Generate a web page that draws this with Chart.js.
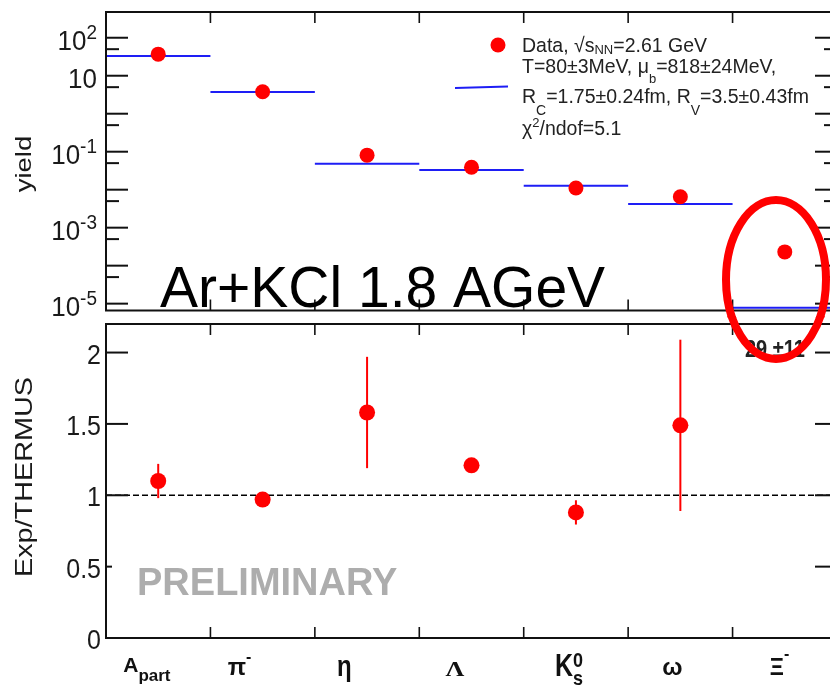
<!DOCTYPE html>
<html>
<head>
<meta charset="utf-8">
<script src="https://cdn.jsdelivr.net/npm/chart.js@4.4.1/dist/chart.umd.min.js"></script>
<style>
  html, body { margin: 0; padding: 0; background: #fff; overflow: hidden; }
  #wrap { position: relative; width: 830px; height: 690px; overflow: hidden; background: #fff; }
  #c1 { position: absolute; left: 0; top: 0; }
  #c2 { position: absolute; left: 0; top: 316px; }
</style>
</head>
<body>
<div id="wrap">
  <canvas id="c1" width="850" height="318"></canvas>
  <canvas id="c2" width="850" height="374"></canvas>
</div>
<script>
// ---------------- data ----------------
const categories = ['A_part', 'π⁻', 'η', 'Λ', 'K⁰s', 'ω', 'Ξ⁻'];
const yieldData  = [37, 3.8, 0.081, 0.039, 0.0111, 0.0065, 0.00023];
const yieldModel = [33, 3.75, 0.048, 0.033, 0.0126, 0.0042, 0.0000078];
const ratioData  = [1.10, 0.97, 1.58, 1.21, 0.88, 1.49, null];
const ratioErr   = [0.12, 0.02, 0.39, 0.02, 0.085, 0.60, null];
const xiRatioText = '29 ±11';

const yieldTickValues = [100, 10, 0.1, 0.001, 0.00001];
const yieldTickMain   = ['10', '10', '10', '10', '10'];
const yieldTickSup    = ['2', '', '-1', '-3', '-5'];
const ratioTickValues = [0, 0.5, 1, 1.5, 2];
const ratioTickLabels = ['0', '0.5', '1', '1.5', '2'];

const legendLines = [
  [['Data, √s', ''], ['NN', 'sub0'], ['=2.61 GeV', '']],
  [['T=80±3MeV, μ', ''], ['b', 'sub1'], ['=818±24MeV,', '']],
  [['R', ''], ['C', 'sub2'], ['=1.75±0.24fm, R', ''], ['V', 'sub2'], ['=3.5±0.43fm', '']],
  [['χ', ''], ['2', 'sup'], ['/ndof=5.1', '']]
];

// ---------------- style ----------------
const RED = '#ff0000', BLUE = '#1e1ef5', INK = '#111111';
const FONT = '"Liberation Sans", Arial, Helvetica, sans-serif';
const SERIF = '"Liberation Serif", "DejaVu Serif", serif';
const OFF2 = 316; // top of second canvas in page coords

function txt(ctx, s, x, y, font, o = {}) {
  ctx.save();
  ctx.font = font;
  ctx.fillStyle = o.color || INK;
  ctx.textAlign = o.align || 'left';
  ctx.textBaseline = 'alphabetic';
  ctx.translate(x, y);
  if (o.rot) ctx.rotate(o.rot);
  ctx.scale(o.sx || 1, o.sy || 1);
  ctx.fillText(s, 0, 0);
  ctx.restore();
}
function richW(ctx, parts) {
  let w = 0;
  for (const p of parts) { ctx.font = p.font; w += (p.adv !== undefined) ? p.adv : ctx.measureText(p.t).width * (p.sx || 1); }
  return w;
}
function rich(ctx, parts, x, y, color) {
  let cx = x;
  for (const p of parts) {
    ctx.font = p.font;
    const w = ctx.measureText(p.t).width * (p.sx || 1);
    if (p.t) txt(ctx, p.t, cx, y + (p.dy || 0), p.font, { sx: p.sx, sy: p.sy, color });
    cx += (p.adv !== undefined) ? p.adv : w;
  }
  return cx - x;
}
function seg(ctx, x1, y1, x2, y2) { ctx.beginPath(); ctx.moveTo(x1, y1); ctx.lineTo(x2, y2); ctx.stroke(); }
function frame(ctx, a) {
  ctx.save(); ctx.strokeStyle = INK; ctx.lineWidth = 2;
  ctx.strokeRect(a.left, a.top, a.right - a.left, a.bottom - a.top);
  ctx.restore();
}
function yTick(ctx, a, py, len) {
  ctx.save(); ctx.strokeStyle = INK; ctx.lineWidth = 2;
  seg(ctx, a.left, py, a.left + len, py);
  seg(ctx, a.right - len, py, a.right, py);
  ctx.restore();
}
function edgeTicks(ctx, a, xs, len) {
  ctx.save(); ctx.strokeStyle = INK; ctx.lineWidth = 1.6;
  for (const px of xs) { seg(ctx, px, a.top, px, a.top + len); seg(ctx, px, a.bottom - len, px, a.bottom); }
  ctx.restore();
}
function ellipse(ctx, cy) {
  ctx.save(); ctx.strokeStyle = RED; ctx.lineWidth = 8;
  ctx.beginPath(); ctx.ellipse(776, cy, 50, 79.5, 0, 0, Math.PI * 2); ctx.stroke();
  ctx.restore();
}

// ---------------- top panel ----------------
const modelSegments = [];
yieldModel.forEach((v, i) => {
  modelSegments.push({ x: i, y: v }, { x: i + 1, y: v }, { x: i + 1, y: null });
});

const topDecor = {
  id: 'topDecor',
  afterDraw(chart) {
    const { ctx, chartArea: a } = chart;
    const xs = chart.scales.x, ys = chart.scales.y;
    frame(ctx, a);
    for (let e = -7; e <= 3; e++) {
      const major = Math.pow(10, e), minor = 5 * major;
      if (major >= ys.min && major <= ys.max) yTick(ctx, a, ys.getPixelForValue(major), 22);
      if (minor >= ys.min && minor <= ys.max) yTick(ctx, a, ys.getPixelForValue(minor), 13);
    }
    const edges = [];
    for (let i = 1; i < categories.length; i++) edges.push(xs.getPixelForValue(i));
    edgeTicks(ctx, a, edges, 11);

    // tick labels
    yieldTickValues.forEach((v, i) => {
      const py = ys.getPixelForValue(v);
      const parts = [{ t: yieldTickMain[i], font: '26px ' + FONT, sy: 1.08 }];
      if (yieldTickSup[i]) parts.push({ t: yieldTickSup[i], font: '19px ' + FONT, dy: -11, sy: 1.05 });
      const w = richW(ctx, parts);
      rich(ctx, parts, 97 - w, py + 12, '#1a1a1a');
    });

    // axis title
    txt(ctx, 'yield', 31, 164, '22px ' + FONT, { rot: -Math.PI / 2, align: 'center', sx: 1.25, color: '#1a1a1a' });

    // legend
    ctx.save(); ctx.fillStyle = RED; ctx.beginPath(); ctx.arc(498, 45, 7.5, 0, Math.PI * 2); ctx.fill(); ctx.restore();
    ctx.save(); ctx.strokeStyle = BLUE; ctx.lineWidth = 2; seg(ctx, 455, 88, 508, 86.5); ctx.restore();
    const baseY = [52, 73, 103, 135];
    const styleOf = {
      '':     { font: '19.5px ' + FONT, dy: 0 },
      'sub0': { font: '13px ' + FONT, dy: 2 },
      'sub1': { font: '13px ' + FONT, dy: 10 },
      'sub2': { font: '14px ' + FONT, dy: 12 },
      'sup':  { font: '13px ' + FONT, dy: -8 }
    };
    legendLines.forEach((line, li) => {
      const parts = line.map(([t, k]) => ({ t, font: styleOf[k].font, dy: styleOf[k].dy, sy: 1.05 }));
      rich(ctx, parts, 522, baseY[li], '#222');
    });

    // system label
    txt(ctx, 'Ar+KCl 1.8 AGeV', 160, 307, '57px ' + FONT, { color: '#000' });

    ellipse(ctx, 279.5);
  }
};

new Chart(document.getElementById('c1'), {
  data: {
    datasets: [
      { type: 'scatter', data: yieldData.map((v, i) => ({ x: i + 0.5, y: v })),
        pointRadius: 7.5, pointBackgroundColor: RED, pointBorderColor: RED, pointBorderWidth: 0, order: 0 },
      { type: 'line', data: modelSegments, borderColor: BLUE, borderWidth: 2,
        pointRadius: 0, spanGaps: false, fill: false, order: 1 }
    ]
  },
  options: {
    responsive: false, animation: false, events: [],
    layout: { padding: { left: 106, right: 13, top: 12, bottom: 1 } },
    plugins: { legend: { display: false }, tooltip: { enabled: false } },
    scales: {
      x: { type: 'linear', min: 0, max: 7, display: false },
      y: { type: 'logarithmic', min: 6.6e-6, max: 476, display: false }
    }
  },
  plugins: [topDecor]
});

// ---------------- bottom panel ----------------
const catLabelParts = [
  { parts: [{ t: 'A', font: 'bold 21px ' + FONT }, { t: 'part', font: 'bold 17px ' + FONT, dy: 9 }], base: 672, shift: -35 },
  { parts: [{ t: 'π', font: 'bold 24px ' + FONT }, { t: '-', font: 'bold 16px ' + FONT, dy: -13 }], base: 675, shift: -35 },
  { parts: [{ t: 'η', font: 'bold 24px ' + FONT, sy: 1.2 }], base: 676, shift: -30 },
  { parts: [{ t: 'Λ', font: 'bold 21px ' + SERIF, sy: 0.95, sx: 1.25 }], base: 676, shift: -26 },
  { parts: [{ t: 'K', font: 'bold 25px ' + FONT, sy: 1.23 }, { t: '0', font: 'bold 18px ' + FONT, sy: 1.15, dy: -9, adv: 0 },
            { t: 's', font: 'bold 18px ' + FONT, sy: 1.1, dy: 9 }], base: 676, shift: -21 },
  { parts: [{ t: 'ω', font: 'bold 24px ' + FONT }], base: 675, shift: -18 },
  { parts: [{ t: 'Ξ', font: 'bold 22px ' + FONT, sy: 1.1 }, { t: '-', font: 'bold 16px ' + FONT, dy: -16 }], base: 675, shift: -15 }
];

const botDecor = {
  id: 'botDecor',
  afterDatasetsDraw(chart) {
    const { ctx } = chart;
    const xs = chart.scales.x, ys = chart.scales.y;
    ctx.save(); ctx.strokeStyle = RED; ctx.lineWidth = 2;
    ratioData.forEach((v, i) => {
      if (v === null || ratioErr[i] === null) return;
      const px = xs.getPixelForValue(i + 0.5);
      seg(ctx, px, ys.getPixelForValue(v - ratioErr[i]), px, ys.getPixelForValue(v + ratioErr[i]));
    });
    ctx.restore();
  },
  afterDraw(chart) {
    const { ctx, chartArea: a } = chart;
    const xs = chart.scales.x, ys = chart.scales.y;
    frame(ctx, a);
    ratioTickValues.forEach(v => yTick(ctx, a, ys.getPixelForValue(v), 22));
    const edges = [];
    for (let i = 1; i < categories.length; i++) edges.push(xs.getPixelForValue(i));
    edgeTicks(ctx, a, edges, 11);

    // PRELIMINARY stamp (with its white backing)
    ctx.save(); ctx.fillStyle = '#fff'; ctx.fillRect(112, 560 - OFF2, 290, 40); ctx.restore();
    txt(ctx, 'PRELIMINARY', 137, 595 - OFF2, 'bold 38px ' + FONT, { color: '#adadad' });

    // tick labels
    ratioTickValues.forEach((v, i) => {
      const py = ys.getPixelForValue(v);
      txt(ctx, ratioTickLabels[i], 101, py + 11, '25px ' + FONT, { align: 'right', sy: 1.12, color: '#1a1a1a' });
    });
    txt(ctx, 'Exp/THERMUS', 32, 477 - OFF2, '24px ' + FONT, { rot: -Math.PI / 2, align: 'center', sx: 1.2, color: '#1a1a1a' });

    // category labels
    catLabelParts.forEach((c, i) => {
      const px = xs.getPixelForValue(i + 0.5) + c.shift;
      rich(ctx, c.parts, px, c.base - OFF2, '#111');
    });

    // off-scale Xi ratio
    txt(ctx, xiRatioText, 745, 357 - OFF2, 'bold 20px ' + FONT, { sy: 1.15, color: '#222' });

    ellipse(ctx, 279.5 - OFF2);
  }
};

new Chart(document.getElementById('c2'), {
  data: {
    datasets: [
      { type: 'scatter', data: ratioData.map((v, i) => ({ x: i + 0.5, y: v })).filter(p => p.y !== null),
        pointRadius: 8, pointBackgroundColor: RED, pointBorderColor: RED, pointBorderWidth: 0, order: 0 },
      { type: 'line', data: [{ x: 0, y: 1 }, { x: 7, y: 1 }], borderColor: '#000', borderWidth: 1.5,
        borderDash: [6, 3], pointRadius: 0, fill: false, order: 1 }
    ]
  },
  options: {
    responsive: false, animation: false, events: [],
    layout: { padding: { left: 106, right: 13, top: 1, bottom: 52 } },
    plugins: { legend: { display: false }, tooltip: { enabled: false } },
    scales: {
      x: { type: 'linear', min: 0, max: 7, display: false },
      y: { type: 'linear', min: 0, max: 2.2, display: false }
    }
  },
  plugins: [botDecor]
});
</script>
</body>
</html>
